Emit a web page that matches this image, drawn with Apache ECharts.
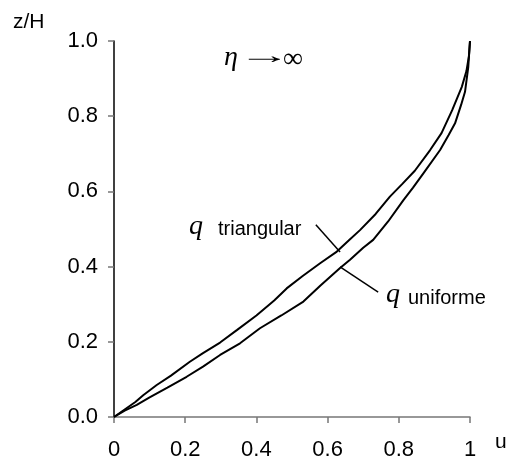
<!DOCTYPE html>
<html>
<head>
<meta charset="utf-8">
<script src="https://cdn.jsdelivr.net/npm/echarts@6/dist/echarts.min.js"></script>
<style>
  html, body { margin: 0; padding: 0; background: #fff; }
  #chart { width: 511px; height: 461px; }
</style>
</head>
<body>
<div id="chart"></div>
<script>
// 数据
var xTicks = ['0', '0.2', '0.4', '0.6', '0.8', '1'];
var yTicks = ['0.0', '0.2', '0.4', '0.6', '0.8', '1.0'];

// q triangular
var triU = [0, 0.03, 0.06, 0.082, 0.12, 0.16, 0.213, 0.25, 0.298, 0.345, 0.40, 0.45, 0.485, 0.53, 0.579,
    0.626, 0.66, 0.691, 0.735, 0.775, 0.81, 0.845, 0.888, 0.92, 0.95, 0.977, 0.99, 0.997, 1.0];
var triZ = [0, 0.02, 0.04, 0.058, 0.085, 0.11, 0.147, 0.17, 0.198, 0.231, 0.27, 0.31, 0.342, 0.375, 0.409,
    0.44, 0.47, 0.497, 0.54, 0.586, 0.62, 0.655, 0.71, 0.755, 0.816, 0.878, 0.92, 0.96, 1.0];

// q uniforme
var uniU = [0, 0.03, 0.064, 0.10, 0.15, 0.204, 0.25, 0.298, 0.354, 0.41, 0.47, 0.532, 0.58, 0.635,
    0.663, 0.70, 0.728, 0.77, 0.813, 0.84, 0.869, 0.916, 0.94, 0.958, 0.975, 0.986, 0.995, 1.0];
var uniZ = [0, 0.017, 0.032, 0.052, 0.078, 0.107, 0.134, 0.165, 0.196, 0.236, 0.27, 0.307, 0.35, 0.396,
    0.418, 0.45, 0.471, 0.52, 0.577, 0.61, 0.648, 0.71, 0.75, 0.781, 0.83, 0.865, 0.93, 1.0];

var zip = function (xs, ys) {
    return xs.map(function (x, i) { return [x, ys[i]]; });
};

var myChart = echarts.init(document.getElementById('chart'));
var sans = 'Liberation Sans, Arial, sans-serif';
var serif = 'Liberation Serif, Times New Roman, serif';

var option = {
    animation: false,
    backgroundColor: '#fff',
    grid: { left: 114, right: 41, top: 41, bottom: 44 },
    xAxis: {
        type: 'value', min: 0, max: 1, interval: 0.2,
        axisLine: { lineStyle: { color: '#777', width: 1.5 } },
        axisTick: { inside: false, length: 6, lineStyle: { color: '#777', width: 1.5 } },
        axisLabel: {
            margin: 22, color: '#000', fontFamily: sans, fontSize: 22,
            formatter: function (v) { return xTicks[Math.round(v / 0.2)]; }
        },
        splitLine: { show: false }
    },
    yAxis: {
        type: 'value', min: 0, max: 1, interval: 0.2,
        axisLine: { show: true, lineStyle: { color: '#000', width: 1.5 } },
        axisTick: { show: true, length: 6, lineStyle: { color: '#777', width: 1.5 } },
        axisLabel: {
            margin: 16, color: '#000', fontFamily: sans, fontSize: 22,
            formatter: function (v) { return yTicks[Math.round(v / 0.2)]; }
        },
        splitLine: { show: false }
    },
    series: [{
        name: 'triangular', type: 'line', data: zip(triU, triZ),
        showSymbol: false, lineStyle: { color: '#000', width: 2 }
    }, {
        name: 'uniforme', type: 'line', data: zip(uniU, uniZ),
        showSymbol: false, lineStyle: { color: '#000', width: 2 }
    }]
};
myChart.setOption(option);

// 标注线（数据坐标）
var p = function (u, z) { return myChart.convertToPixel({ gridIndex: 0 }, [u, z]); };
var a1 = p(0.567, 0.511), b1 = p(0.635, 0.439);
var a2 = p(0.635, 0.399), b2 = p(0.742, 0.332);

myChart.setOption({
    graphic: [
        { type: 'line', shape: { x1: a1[0], y1: a1[1], x2: b1[0], y2: b1[1] }, style: { stroke: '#000', lineWidth: 1.5 } },
        { type: 'line', shape: { x1: a2[0], y1: a2[1], x2: b2[0], y2: b2[1] }, style: { stroke: '#000', lineWidth: 1.5 } },
        { type: 'text', left: 13, top: 12, style: { text: 'z/H', font: '21px ' + sans, fill: '#000' } },
        { type: 'text', left: 495, top: 432, style: { text: 'u', font: '21px ' + sans, fill: '#000' } },
        { type: 'text', left: 224, top: 44, style: { text: 'η', font: 'italic 28px ' + serif, fill: '#000' } },
        { type: 'text', x: 238, y: 57, scaleX: 2.2, style: { text: '→', font: '24px ' + serif, fill: '#000', verticalAlign: 'middle' } },
        { type: 'text', left: 283, top: 46, style: { text: '∞', font: '28px ' + serif, fill: '#000' } },
        { type: 'text', left: 189, top: 213, style: { text: 'q', font: 'italic 28px ' + serif, fill: '#000' } },
        { type: 'text', left: 218, top: 219, style: { text: 'triangular', font: '20px ' + sans, fill: '#000' } },
        { type: 'text', left: 386, top: 281, style: { text: 'q', font: 'italic 28px ' + serif, fill: '#000' } },
        { type: 'text', left: 408, top: 288, style: { text: 'uniforme', font: '20px ' + sans, fill: '#000' } }
    ]
});
</script>
</body>
</html>
